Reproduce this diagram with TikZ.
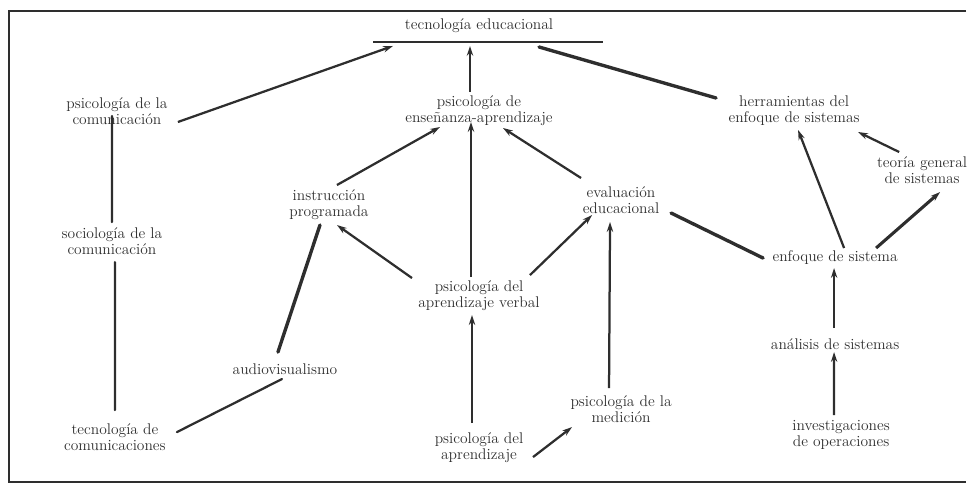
\documentclass[tikz,border=0pt]{standalone}
\usetikzlibrary{positioning,calc,arrows.meta}
\definecolor{ink}{HTML}{2E2E2E}

\begin{document}
\begin{tikzpicture}[x=0.025cm,y=0.025cm,on grid]
	\tikzstyle{every node}=[font=\fontsize{11}{11.5}\selectfont,align=center,text=ink,inner sep=1pt]
	\tikzstyle{link}=[draw=ink,line width=1.6pt,-{Stealth[length=7pt,width=4.5pt]}]
	\tikzstyle{plain}=[draw=ink,line width=1.6pt,line cap=round]
	\tikzstyle{heavy}=[plain,line width=2.4pt]

	\clip (0,0) rectangle (972,-486);
	\draw[ink,line width=1.3pt] (966,-11) -- (9,-11) -- (9,-482) -- (966,-482);

	\node (PE) at (479,-111) {psicología de\\enseñanza-aprendizaje};
	\node[above=2.125cm of PE] (TE) {tecnología educacional};
	\node[left=9.05cm of PE] (PC) {psicología de la\\comunicación};
	\node[right=7.875cm of PE] (HE) {herramientas del\\enfoque de sistemas};
	\node[below right=1.475cm and 3.2cm of HE] (TG) {teoría general\\de sistemas};
	\node[below left=3.25cm and 0.125cm of PC] (SC) {sociología de la\\comunicación};
	\node[below right=4.9cm and 0.075cm of SC] (TC) {tecnología de\\comunicaciones};
	\node[below left=2.35cm and 3.75cm of PE] (IP) {instrucción\\programada};
	\node[below left=4.1cm and 1.1cm of IP] (AU) {audiovisualismo};
	\node[below=4.625cm of PE] (AV) {psicología del\\aprendizaje verbal};
	\node[below=3.8cm of AV] (PA) {psicología del\\aprendizaje};
	\node[below right=2.225cm and 3.55cm of PE] (EV) {evaluación\\educacional};
	\node[below=5.225cm of EV] (ME) {psicología de la\\medición};
	\node[below right=3.675cm and 1.025cm of HE] (EN) {enfoque de sistema};
	\node[below=2.15cm of EN] (AN) {análisis de sistemas};
	\node[below right=2.275cm and 0.15cm of AN] (IO) {investigaciones\\de operaciones};

	% barra bajo el titulo
	\draw[ink,line width=1.6pt] ($(TE)+(-106,-16)$) -- ($(TE)+(124,-16)$);

	\draw[link] ($(PC)+(61,-11)$) -- ($(TE)+(-86,-20)$);
	\draw[link] ($(PE)+(-9,19)$) -- ($(TE)+(-9,-20)$);
	\draw[heavy] ($(HE)+(-78,13)$) -- ($(TE)+(60,-21)$);
	\draw[plain] ($(SC)+(0,19)$) -- ($(PC)+(-5,-5)$);
	\draw[plain] ($(TC)+(0,27)$) -- ($(SC)+(3,-21)$);
	\draw[plain] ($(TC)+(62,5)$) -- ($(AU)+(-3,-10)$);
	\draw[heavy] ($(AU)+(-7,17)$) -- ($(IP)+(-9,-20)$);
	\draw[link] ($(IP)+(8,20)$) -- ($(PE)+(-39,-16)$);
	\draw[link] ($(AV)+(-67,18)$) -- ($(IP)+(8,-20)$);
	\draw[link] ($(AV)+(-8,19)$) -- ($(PE)+(-8,-11)$);
	\draw[link] ($(EV)+(-40,22)$) -- ($(PE)+(24,-17)$);
	\draw[link] ($(AV)+(51,21)$) -- ($(EV)+(-29,-15)$);
	\draw[link] ($(ME)+(-12,21)$) -- ($(EV)+(-11,-22)$);
	\draw[link] ($(PA)+(-7,25)$) -- ($(AV)+(-7,-19)$);
	\draw[link] ($(PA)+(54,-9)$) -- ($(ME)+(-49,-18)$);
	\draw[heavy] ($(EV)+(50,-13)$) -- ($(EN)+(-72,0)$);
	\draw[link] ($(EN)+(9,10)$) -- ($(HE)+(4,-19)$);
	\draw[link,line width=2.2pt] ($(EN)+(41,10)$) -- ($(TG)+(18,-22)$);
	\draw[link] ($(TG)+(-23,18)$) -- ($(HE)+(64,-21)$);
	\draw[link] ($(AN)+(-1,16)$) -- ($(EN)+(-1,-10)$);
	\draw[link] ($(IO)+(-7,20)$) -- ($(AN)+(-1,-8)$);
\end{tikzpicture}
\end{document}
